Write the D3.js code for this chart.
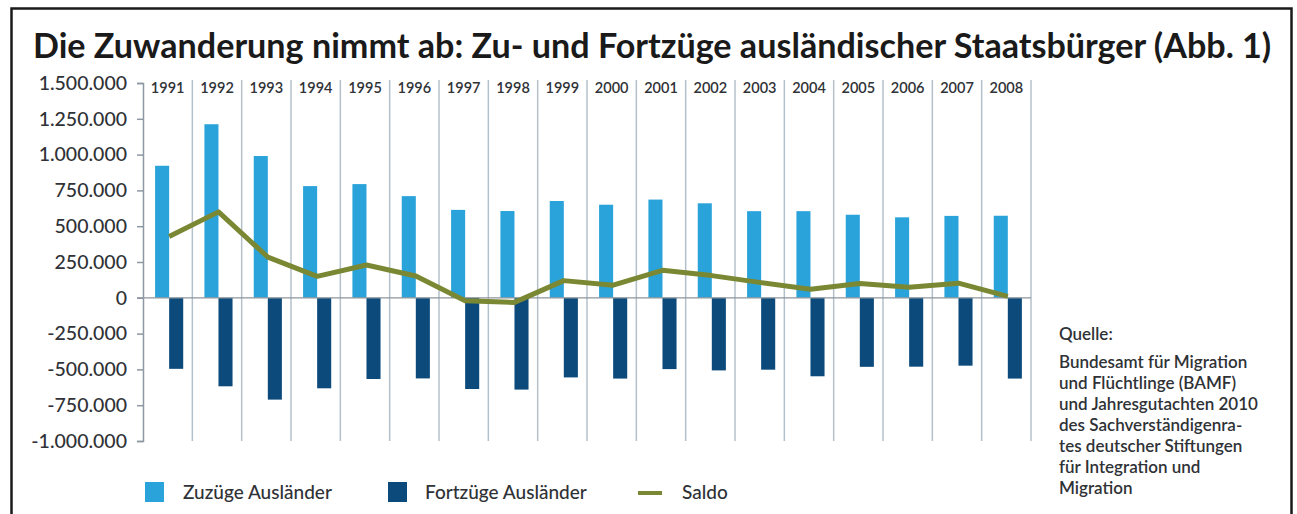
<!DOCTYPE html>
<html lang="de">
    <head>
        <meta charset="utf-8">
        <title>Zu- und Fortzüge</title>
        <script src="https://d3js.org/d3.v7.min.js"></script>
        <style type="text/css">
            body { margin: 0; background: #fff; }
            text { font-family: Lato, "Open Sans", sans-serif; fill: #2f3236; }
        </style>
    </head>
    <body>
        <script>
        // data
        const years = ["1991","1992","1993","1994","1995","1996","1997","1998","1999",
                       "2000","2001","2002","2003","2004","2005","2006","2007","2008"];
        const zuzuege = [922000, 1212000, 990000, 780000, 794000, 710000, 614000, 606000, 676000,
                         650000, 686000, 660000, 605000, 605000, 580000, 562000, 572000, 573000];
        const fortzuege = [-496000, -618000, -711000, -632000, -567000, -563000, -637000, -641000, -556000,
                           -564000, -498000, -507000, -502000, -548000, -482000, -481000, -474000, -564000];
        const saldo = [428000, 600000, 284000, 150000, 229000, 152000, -20000, -32000, 120000,
                       88000, 192000, 155000, 106000, 60000, 100000, 74000, 102000, 10000];
        const yTicks = [-1000000, -750000, -500000, -250000, 0, 250000, 500000, 750000, 1000000, 1250000, 1500000];
        const legendItems = ["Zuzüge Ausländer", "Fortzüge Ausländer", "Saldo"];
        const sourceLines = ["Bundesamt für Migration", "und Flüchtlinge (BAMF)", "und Jahresgutachten 2010",
                             "des Sachverständigenra-", "tes deutscher Stiftungen", "für Integration und", "Migration"];

        const width = 1297, height = 514;
        const lightBlue = "#2aa3da", darkBlue = "#0c4a7b", olive = "#7a8833", gridCol = "#b4c0c9";

        const de = d3.formatLocale({decimal: ",", thousands: ".", grouping: [3], currency: ["", " €"], minus: "-"});
        const fmt = de.format(",d");

        const svg = d3.select("body").append("svg")
            .attr("width", width)
            .attr("height", height);

        // frame
        svg.append("rect")
            .attr("x", 11.5).attr("y", 8.5)
            .attr("width", 1280).attr("height", 520)
            .attr("fill", "none").attr("stroke", "#1a1a1a").attr("stroke-width", 2.5);

        // title, fitted to the width it takes in the picture
        const title = svg.append("text")
            .attr("x", 33).attr("y", 58)
            .attr("font-weight", 700)
            .attr("font-size", 30)
            .style("fill", "#1a1a1a")
            .text("Die Zuwanderung nimmt ab: Zu- und Fortzüge ausländischer Staatsbürger (Abb. 1)");
        const tw = title.node().getComputedTextLength();
        title.attr("font-size", 30 * 1239 / tw);

        const xScale = d3.scaleBand()
            .domain(years)
            .range([143, 1031])
            .padding(0);
        const bw = xScale.bandwidth();

        const yScale = d3.scaleLinear()
            .domain([-1000000, 1500000])
            .range([441, 83]);

        // vertical separators between years
        svg.append("g")
            .selectAll("line")
            .data(years)
            .enter()
            .append("line")
            .attr("x1", d => xScale(d) + bw)
            .attr("x2", d => xScale(d) + bw)
            .attr("y1", 80)
            .attr("y2", yScale(-1000000))
            .attr("stroke", gridCol)
            .attr("stroke-width", 1.5);

        // year labels on top
        svg.append("g")
            .selectAll("text")
            .data(years)
            .enter()
            .append("text")
            .attr("x", d => xScale(d) + bw / 2)
            .attr("y", 93)
            .attr("text-anchor", "middle")
            .attr("font-size", 14.5)
            .attr("font-weight", 600)
            .text(d => d);

        // bars
        svg.append("g")
            .selectAll("rect")
            .data(years)
            .enter()
            .append("rect")
            .attr("x", d => xScale(d) + bw * 0.245)
            .attr("y", (d, i) => yScale(zuzuege[i]))
            .attr("width", bw * 0.285)
            .attr("height", (d, i) => yScale(0) - yScale(zuzuege[i]))
            .attr("fill", lightBlue);

        svg.append("g")
            .selectAll("rect")
            .data(years)
            .enter()
            .append("rect")
            .attr("x", d => xScale(d) + bw * 0.53)
            .attr("y", yScale(0))
            .attr("width", bw * 0.285)
            .attr("height", (d, i) => yScale(fortzuege[i]) - yScale(0))
            .attr("fill", darkBlue);

        // zero line
        svg.append("line")
            .attr("x1", 137).attr("x2", 1031)
            .attr("y1", yScale(0)).attr("y2", yScale(0))
            .attr("stroke", "#8d959b").attr("stroke-width", 1.2);

        // left axis
        const leftAxis = d3.axisLeft(yScale)
            .tickValues(yTicks)
            .tickFormat(fmt)
            .tickSize(6)
            .tickPadding(10);
        const ax = svg.append("g")
            .attr("transform", "translate(143,0)")
            .call(leftAxis);
        ax.select(".domain").attr("stroke", "#8d98a2").attr("stroke-width", 1.5);
        ax.selectAll(".tick line").attr("stroke", "#8d98a2").attr("stroke-width", 1.5);
        ax.selectAll(".tick text")
            .attr("font-size", 19.5)
            .attr("font-family", "Lato, sans-serif")
            .attr("font-weight", 500)
            .style("fill", "#2f3236");

        // saldo line
        const line = d3.line()
            .x((d, i) => xScale(years[i]) + bw * 0.53)
            .y(d => yScale(d));
        svg.append("path")
            .datum(saldo)
            .attr("d", line)
            .attr("fill", "none")
            .attr("stroke", olive)
            .attr("stroke-width", 5)
            .attr("stroke-linejoin", "round");

        // legend
        const lg = svg.append("g").attr("font-size", 19).attr("font-weight", 500);
        lg.append("rect").attr("x", 145).attr("y", 482).attr("width", 19).attr("height", 20).attr("fill", lightBlue);
        lg.append("text").attr("x", 183).attr("y", 499).text(legendItems[0]);
        lg.append("rect").attr("x", 388).attr("y", 482).attr("width", 19).attr("height", 20).attr("fill", darkBlue);
        lg.append("text").attr("x", 425).attr("y", 499).text(legendItems[1]);
        lg.append("line").attr("x1", 638).attr("x2", 662).attr("y1", 493).attr("y2", 493)
            .attr("stroke", olive).attr("stroke-width", 4);
        lg.append("text").attr("x", 682).attr("y", 499).text(legendItems[2]);

        // source note
        const src = svg.append("g").attr("font-size", 17).attr("font-weight", 600);
        src.append("text").attr("x", 1059).attr("y", 340).text("Quelle:");
        src.selectAll("text.line")
            .data(sourceLines)
            .enter()
            .append("text")
            .attr("class", "line")
            .attr("x", 1059)
            .attr("y", (d, i) => 368 + i * 21)
            .text(d => d);
        </script>
    </body>
</html>
